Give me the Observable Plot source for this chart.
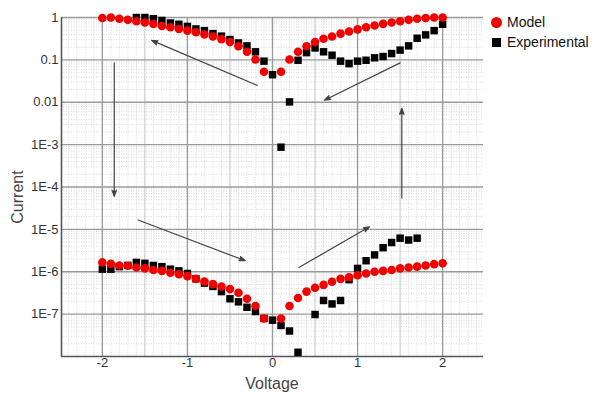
<!DOCTYPE html>
<html>
<head>
<meta charset="utf-8">
<script src="https://cdn.jsdelivr.net/npm/d3@7"></script>
<script src="https://cdn.jsdelivr.net/npm/@observablehq/plot@0.6"></script>
<style>
  html, body { margin: 0; padding: 0; background: #fff; }
  body { font-family: "Liberation Sans", Arial, sans-serif; }
  #wrap { position: relative; width: 596px; height: 397px; overflow: hidden; }
  #legend { position: absolute; left: 490px; top: 12px; font-size: 14px; color: #111; }
  .item { display: flex; align-items: center; height: 20px; }
  .sw { width: 12px; margin-right: 5px; display: flex; justify-content: center; }
  .atitle { position: absolute; font-size: 16px; color: #444; white-space: nowrap; line-height: 1; }
</style>
</head>
<body>
<div id="wrap"><div id="legend"></div></div>
<script>
// ---- Data (voltage in V, current in A) ----
const modelV = [-2.0,-1.9,-1.8,-1.7,-1.6,-1.5,-1.4,-1.3,-1.2,-1.1,-1.0,-0.9,-0.8,-0.7,-0.6,-0.5,-0.4,-0.3,-0.2,-0.1,
                 0.1,0.2,0.3,0.4,0.5,0.6,0.7,0.8,0.9,1.0,1.1,1.2,1.3,1.4,1.5,1.6,1.7,1.8,1.9,2.0];
const modelUpper = [0.977,1.0,0.933,0.881,0.813,0.759,0.708,0.631,0.589,0.537,0.490,0.447,0.398,0.355,0.309,0.263,0.209,0.155,0.102,0.0525,
                    0.0525,0.102,0.155,0.209,0.263,0.316,0.355,0.417,0.468,0.525,0.589,0.646,0.708,0.759,0.813,0.881,0.933,0.977,1.0,1.0];
const modelLower = [1.66e-6,1.55e-6,1.41e-6,1.38e-6,1.26e-6,1.20e-6,1.10e-6,1.05e-6,9.5e-7,8.7e-7,7.9e-7,6.8e-7,5.9e-7,5.1e-7,4.5e-7,3.9e-7,3.2e-7,2.3e-7,1.55e-7,7.9e-8,
                    7.9e-8,1.55e-7,2.4e-7,3.4e-7,4.2e-7,4.9e-7,5.8e-7,6.8e-7,7.4e-7,8.3e-7,9.1e-7,1.0e-6,1.05e-6,1.10e-6,1.20e-6,1.26e-6,1.32e-6,1.41e-6,1.51e-6,1.58e-6];

const expUpperV = [-1.6,-1.5,-1.4,-1.3,-1.2,-1.1,-1.0,-0.9,-0.8,-0.7,-0.6,-0.5,-0.4,-0.3,-0.2,-0.1,0.0,
                   0.1,0.2,0.3,0.4,0.5,0.6,0.7,0.8,0.9,1.0,1.1,1.2,1.3,1.4,1.5,1.6,1.7,1.8,1.9,2.0];
const expUpper = [1.0,1.0,0.933,0.851,0.741,0.692,0.617,0.537,0.490,0.417,0.363,0.302,0.251,0.214,0.155,0.0933,0.0447,
                  8.7e-4,0.0102,0.098,0.148,0.191,0.155,0.129,0.0933,0.0813,0.0933,0.098,0.112,0.120,0.141,0.170,0.214,0.324,0.389,0.490,0.692];
const expLowerV = [-2.0,-1.9,-1.8,-1.7,-1.6,-1.5,-1.4,-1.3,-1.2,-1.1,-1.0,-0.9,-0.8,-0.7,-0.6,-0.5,-0.4,-0.3,-0.2,-0.1,0.0,0.1,0.2,0.3,
                   0.5,0.6,0.7,0.8,0.9,1.0,1.1,1.2,1.3,1.4,1.5,1.6,1.7];
const expLower = [1.15e-6,1.15e-6,1.32e-6,1.41e-6,1.66e-6,1.58e-6,1.41e-6,1.32e-6,1.15e-6,1.05e-6,9.1e-7,6.8e-7,5.4e-7,4.5e-7,3.4e-7,2.3e-7,1.95e-7,1.45e-7,1.15e-7,7.9e-8,7.2e-8,5.4e-8,4.0e-8,1.26e-8,
                  9.8e-8,2.1e-7,1.74e-7,2.1e-7,6.5e-7,1.2e-6,1.82e-6,2.5e-6,3.7e-6,4.9e-6,6.2e-6,5.6e-6,6.2e-6];

// sweep-direction arrows (data coordinates)
const arrowX1 = [-0.18, -1.86, -1.58, 0.31, 1.52, 1.50];
const arrowY1 = [0.025, 0.085, 1.66e-5, 1.26e-6, 5.5e-5, 0.085];
const arrowX2 = [-1.42, -1.86, -0.32, 1.14, 1.52, 0.61];
const arrowY2 = [0.288, 6.0e-5, 1.82e-6, 1.15e-5, 0.0072, 0.0112];

const xTicks = [-2, -1, 0, 1, 2];
const xTickLabels = ["-2", "-1", "0", "1", "2"];
const yTicks = [1, 0.1, 0.01, 1e-3, 1e-4, 1e-5, 1e-6, 1e-7];
const yTickLabels = ["1", "0.1", "0.01", "1E-3", "1E-4", "1E-5", "1E-6", "1E-7"];
const seriesNames = ["Model", "Experimental"];
const seriesColors = ["#f20000", "#000000"];
const xTitle = "Voltage";
const yTitle = "Current";

const xDomain = [-2.48, 2.48];
const yDomain = [1e-8, 1];

// ---- Build tables ----
const model = [];
modelV.forEach((v, i) => { model.push({v, i: modelUpper[i]}); model.push({v, i: modelLower[i]}); });
const exp = [];
expUpperV.forEach((v, i) => exp.push({v, i: expUpper[i]}));
expLowerV.forEach((v, i) => exp.push({v, i: expLower[i]}));
const arrows = arrowX1.map((x, k) => ({x1: x, y1: arrowY1[k], x2: arrowX2[k], y2: arrowY2[k]}));

// grid helpers
const yMinor = [];
for (let k = -8; k < 0; k++) for (let m = 2; m <= 9; m++) yMinor.push(m * Math.pow(10, k));
const xHalf = [-1.5, -0.5, 0.5, 1.5];
const xMinor = d3.range(-24, 25).map(d => d / 10).filter(d => Math.abs(d * 2 - Math.round(d * 2)) > 1e-6);

const font = "Liberation Sans, Arial, sans-serif";

const chart = Plot.plot({
  width: 596,
  height: 397,
  marginLeft: 61,
  marginRight: 113,
  marginTop: 17,
  marginBottom: 41,
  style: {fontFamily: font, fontSize: "13px", color: "#333", background: "#fff"},
  x: {domain: xDomain, ticks: xTicks, tickFormat: d => xTickLabels[xTicks.indexOf(d)], tickSize: 0, tickPadding: 1, label: null},
  y: {type: "log", domain: yDomain, ticks: yTicks, tickFormat: d => yTickLabels[yTicks.indexOf(d)], tickSize: 0, tickPadding: 3, label: null},
  marks: [
    Plot.ruleY(yMinor, {stroke: "#cfcfcf", strokeDasharray: "1,1.5", strokeWidth: 0.8}),
    Plot.ruleX(xMinor, {stroke: "#d6d6d6", strokeDasharray: "1,1.5", strokeWidth: 0.8}),
    Plot.ruleX(xHalf, {stroke: "#c4c4c4", strokeWidth: 1}),
    Plot.ruleY(yTicks, {stroke: "#9a9a9a", strokeWidth: 1.3}),
    Plot.ruleX(xTicks, {stroke: "#9a9a9a", strokeWidth: 1.3}),
    Plot.ruleX([xDomain[0]], {stroke: "#555", strokeWidth: 1.6}),
    Plot.ruleY([yDomain[0]], {stroke: "#555", strokeWidth: 1.6}),
    Plot.arrow(arrows, {x1: "x1", y1: "y1", x2: "x2", y2: "y2", stroke: "#444", fill: "#444", strokeWidth: 1.2, headLength: 8, headAngle: 40}),
    Plot.dot(exp, {x: "v", y: "i", symbol: "square", r: 4.2, fill: seriesColors[1], stroke: "none"}),
    Plot.dot(model, {x: "v", y: "i", r: 4.3, fill: seriesColors[0], stroke: "none"})
  ]
});

const wrap = document.getElementById("wrap");
wrap.insertBefore(chart, wrap.firstChild);

// axis titles
const yt = document.createElement("div");
yt.className = "atitle";
yt.textContent = yTitle;
yt.style.left = "18px"; yt.style.top = "197px";
yt.style.transform = "translate(-50%,-50%) rotate(-90deg)";
wrap.appendChild(yt);
const xt = document.createElement("div");
xt.className = "atitle";
xt.textContent = xTitle;
xt.style.left = "272px"; xt.style.top = "384px";
xt.style.transform = "translate(-50%,-50%)";
wrap.appendChild(xt);

const legend = document.getElementById("legend");
seriesNames.forEach((name, k) => {
  const item = document.createElement("div");
  item.className = "item";
  const sw = document.createElement("div");
  sw.className = "sw";
  const mk = document.createElement("div");
  if (k === 0) { mk.style.cssText = `width:11px;height:11px;border-radius:50%;background:${seriesColors[k]}`; }
  else { mk.style.cssText = `width:9px;height:9px;background:${seriesColors[k]}`; }
  sw.appendChild(mk);
  const t = document.createElement("span");
  t.textContent = name;
  item.appendChild(sw);
  item.appendChild(t);
  legend.appendChild(item);
});
</script>
</body>
</html>
